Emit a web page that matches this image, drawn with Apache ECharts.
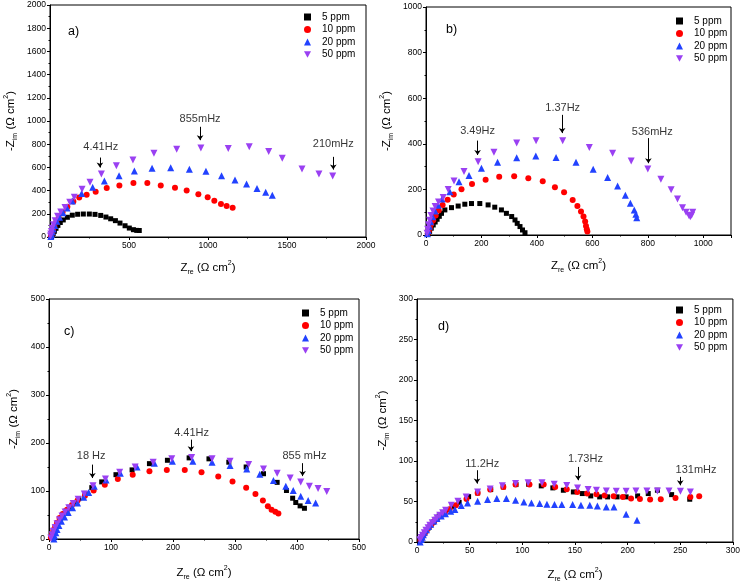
<!DOCTYPE html>
<html><head><meta charset="utf-8">
<script src="https://cdn.jsdelivr.net/npm/echarts@6/dist/echarts.min.js"></script>
<style>html,body{margin:0;padding:0;background:#fff}#c{width:743px;height:585px}</style>
</head><body><div id="c"></div>
<script>
// ---------- data ----------
const seriesNames = ['5 ppm', '10 ppm', '20 ppm', '50 ppm'];

// panel a)
const a5 = [[10,5],[14,15],[20,30],[28,50],[38,75],[50,100],[65,125],[84,147],[110,170],[141,188],[175,196],[211,198],[249,198],[285,195],[321,186],[354,172],[384,157],[414,141],[443,120],[475,97],[502,77],[528,63],[549,57],[565,56]];
const a10 = [[5,5],[9,20],[14,40],[20,65],[28,95],[40,130],[55,165],[80,215],[110,260],[148,305],[185,340],[232,365],[289,391],[359,422],[439,445],[528,466],[616,466],[701,445],[791,425],[865,400],[939,368],[998,342],[1040,313],[1082,285],[1118,267],[1156,253]];
const a20 = [[5,5],[9,22],[14,45],[20,70],[30,100],[43,135],[60,170],[82,210],[108,250],[141,310],[200,375],[270,428],[344,483],[437,529],[534,569],[646,592],[764,598],[882,583],[987,566],[1086,529],[1171,491],[1244,457],[1310,419],[1365,385],[1407,359]];
const a50 = [[3,8],[5,25],[9,48],[14,75],[22,105],[33,140],[48,178],[68,215],[95,255],[125,300],[154,342],[203,411],[253,471],[325,543],[420,615],[525,664],[658,721],[802,756],[955,768],[1128,764],[1261,779],[1384,736],[1470,678],[1595,586],[1702,543],[1789,526]];

// panel b)
const b5 = [[8,5],[13,15],[19,30],[26,44],[33,57],[40,69],[48,82],[56,95],[68,110],[92,120],[116,127],[140,135],[164,138],[194,138],[224,132],[248,122],[272,110],[290,95],[309,81],[321,66],[329,51],[339,37],[348,22],[357,10]];
const b10 = [[6,5],[10,18],[14,32],[19,48],[26,65],[35,85],[46,108],[60,132],[78,155],[100,178],[128,201],[166,224],[215,242],[264,255],[318,258],[369,249],[421,236],[465,209],[498,187],[529,154],[546,127],[559,103],[568,81],[574,59],[577,40],[580,25],[582,15]];
const b20 = [[5,5],[8,20],[12,38],[17,58],[24,80],[33,105],[44,130],[58,158],[86,190],[119,234],[155,261],[200,293],[258,319],[327,339],[396,347],[469,340],[541,319],[603,288],[655,252],[691,215],[719,174],[737,139],[751,110],[757,91],[760,76]];
const b50 = [[4,8],[6,25],[9,45],[13,65],[18,85],[25,105],[33,125],[45,145],[62,165],[80,200],[101,237],[137,278],[188,321],[245,363],[327,403],[397,413],[493,413],[589,384],[673,359],[740,325],[800,290],[847,245],[884,198],[907,158],[925,120],[938,100],[948,86],[953,80],[958,87],[962,100]];

// panel c)
const c5 = [[4,3],[6,10],[8,18],[11,26],[14,34],[18,42],[22,50],[27,58],[33,66],[40,75],[48,84],[58,95],[69,107],[85,119],[108,134],[134,144],[162,157],[191,164],[226,169],[258,167],[290,160],[318,150],[346,136],[368,118],[383,101],[393,85],[398,76],[405,69],[412,64]];
const c10 = [[3,3],[5,10],[7,18],[10,26],[13,34],[17,44],[22,52],[29,61],[37,71],[46,80],[58,90],[72,101],[90,113],[111,125],[135,134],[162,141],[190,144],[219,144],[246,139],[273,130],[296,120],[318,107],[333,94],[345,80],[353,68],[359,61],[365,57],[370,53]];
const c20 = [[8,0],[9,6],[11,13],[13,20],[16,28],[20,37],[25,46],[31,55],[38,65],[46,75],[56,87],[64,97],[73,110],[92,123],[115,137],[142,150],[170,158],[199,162],[232,162],[263,160],[292,153],[319,146],[340,135],[362,122],[382,110],[394,101],[406,89],[418,80],[430,75]];
const c50 = [[3,2],[5,9],[7,16],[10,24],[13,32],[17,40],[21,48],[26,56],[32,65],[39,74],[47,83],[57,94],[71,111],[91,125],[114,139],[139,150],[168,160],[198,167],[230,170],[263,167],[292,162],[322,155],[346,146],[368,137],[389,127],[406,119],[420,110],[434,105],[448,99]];

// panel d)
const d5 = [[3,2],[4.3,5],[5.6,8],[7.2,11],[9,14],[11,17.5],[13,21],[15.5,24.5],[18,28],[21,32],[25,36],[29,40],[33.5,44],[40,49],[49,56],[57.6,60.6],[70,64.7],[82,68],[94,70.9],[106,71.3],[118,69.3],[129,66.8],[139,63.9],[148.5,61.8],[157,59.8],[165,56.9],[173.5,55.7],[181,55.7],[190,55.7],[198.6,55.7],[209.5,56.9],[219.6,59.8],[228.3,63.9],[241.8,58.5],[259,52.8]];
const d10 = [[3.3,2],[4.6,5],[6,8],[7.6,11.5],[9.5,15],[11.5,18.5],[13.8,22],[16.4,25.5],[19.3,29],[22.5,32.5],[26.5,36.5],[31,40.5],[37,45.5],[47,53],[57.6,60.6],[69.5,64.7],[82,68],[93.6,70.9],[106.8,70.9],[120.3,70.9],[131.2,68],[142.2,65.1],[152.2,61.8],[161.6,59.8],[170.4,59],[178.2,57.3],[186.7,56.5],[195.4,55.7],[203.3,53.6],[211.7,53.2],[221.4,52.4],[231.5,52.8],[245.5,54.4],[259.6,55.5],[268,56.5]];
const d20 = [[3,0],[4,3],[5,6],[6,9],[7,12],[9,15],[11,19],[13,22],[16,26],[19,29],[23,32],[27,35],[32,38],[36,40],[42,45],[48,48],[57.6,50.3],[67,52.4],[75.8,53.6],[84.9,53.6],[93.6,51.5],[101.5,49.5],[108.7,48.2],[116.5,47.4],[123.4,46.6],[130.6,46.2],[137.5,46.2],[147.8,46.2],[155.7,45.4],[164.1,45.4],[171.3,44.5],[179.8,43.3],[187,43.3],[198.6,34.2],[208.9,26.8]];
const d50 = [[2.8,2.9],[4,5.5],[5.3,8.3],[7,11.5],[8.5,14.5],[10.5,17.5],[12.2,20.6],[14.5,23.7],[16.9,26.8],[19,30],[21.6,33],[24.4,36],[27.2,39.2],[32.6,45.4],[38.8,50.3],[46.7,55.7],[57.6,61.8],[69.5,65.5],[81.1,69.3],[93.6,72.1],[105.5,73],[118.7,73],[130.3,71.3],[142.2,69.7],[152.5,66.8],[162.5,64.7],[170.4,63.9],[179.8,63.1],[189.2,62.7],[198.6,62.7],[207.9,63.1],[218.3,63.1],[228.3,63.1],[239.3,63.1],[250.2,62.7],[259.6,61.8]];

// annotations: [text, textX, textY, arrowX, arrowFromY, arrowToY] (data units)
const annA = [['4.41Hz',321,777,316,685,599],['855mHz',950,1019,950,950,835],['210mHz',1793,806,1793,691,581]];
const annB = [['3.49Hz',186,457,186,414,351],['1.37Hz',493,556,491,527,447],['536mHz',816,451,802,425,315]];
const annC = [['18 Hz',68,174,70,155,127],['4.41Hz',230,221,229,207,183],['855 mHz',412,174,409,158,131]];
const annD = [['11.2Hz',62,96,57,88.6,72.1],['1.73Hz',160,103,153,92.7,76.3],['131mHz',265,88.6,250,80.4,70]];

const panelLabels = ['a)', 'b)', 'c)', 'd)'];

// ---------- styling ----------
const FONT = 'Liberation Sans, Arial, sans-serif';
const colors = ['#000000', '#ff0000', '#2242ff', '#9a40f2'];
const symbols = ['rect', 'circle', 'triangle', 'path://M0,0L10,0L5,9Z'];
const sizes = [5, 6, 7, 7];

const grids = [
  {left: 50, top: 5, width: 316, height: 232},
  {left: 426, top: 7, width: 305, height: 228},
  {left: 49, top: 299, width: 310, height: 240},
  {left: 417, top: 299, width: 319, height: 243}
];
const xCfg = [{max: 2000, interval: 500, gap: 23}, {max: 1100, interval: 200, gap: 23}, {max: 500, interval: 100, gap: 26}, {max: 300, interval: 50, gap: 25}];
const yCfg = [{max: 2000, interval: 200, gap: 31}, {max: 1000, interval: 200, gap: 31}, {max: 500, interval: 100, gap: 27}, {max: 300, interval: 50, gap: 26}];
const legendPos = [{left: 304, top: 12}, {left: 676, top: 16}, {left: 302, top: 308}, {left: 676, top: 305}];
const labelPos = [{left: 68, top: 25}, {left: 446, top: 23}, {left: 64, top: 325}, {left: 438, top: 320}];

const rich = {
  n: {fontSize: 11.5, fontFamily: FONT, color: '#000', lineHeight: 16},
  s: {fontSize: 7, fontFamily: FONT, color: '#000', lineHeight: 8, verticalAlign: 'bottom'},
  p: {fontSize: 7, fontFamily: FONT, color: '#000', lineHeight: 8, verticalAlign: 'top'}
};
const xName = '{n|Z}{s|re}{n| (Ω cm}{p|2}{n|)}';
const yName = '{n|-Z}{s|im}{n| (Ω cm}{p|2}{n|)}';

function axisCommon(cfg) {
  return {
    type: 'value', min: 0, max: cfg.max, interval: cfg.interval,
    nameLocation: 'middle', nameGap: cfg.gap,
    nameTextStyle: {rich: rich},
    axisLine: {show: true, onZero: false, lineStyle: {color: '#000', width: 1}},
    axisTick: {show: true, length: 3, lineStyle: {color: '#000', width: 1}},
    minorTick: {show: true, splitNumber: 2, length: 1.5, lineStyle: {color: '#000', width: 1}},
    splitLine: {show: false}, minorSplitLine: {show: false},
    axisLabel: {color: '#000', fontSize: 8.5, fontFamily: FONT, margin: 4,
      formatter: v => (Math.round(v) % cfg.interval === 0 ? String(Math.round(v)) : '')}
  };
}

const panelData = [[a5, a10, a20, a50], [b5, b10, b20, b50], [c5, c10, c20, c50], [d5, d10, d20, d50]];
const panelAnn = [annA, annB, annC, annD];

const option = {
  animation: false,
  backgroundColor: '#fff',
  grid: grids.map(g => Object.assign({show: true, borderColor: '#000', borderWidth: 1, backgroundColor: 'transparent', containLabel: false}, g)),
  xAxis: xCfg.map((c, i) => Object.assign(axisCommon(c), {gridIndex: i, name: xName})),
  yAxis: yCfg.map((c, i) => Object.assign(axisCommon(c), {gridIndex: i, name: yName})),
  legend: legendPos.map(p => ({
    orient: 'vertical', left: p.left, top: p.top, padding: 0,
    itemWidth: 7, itemHeight: 7, itemGap: 2.5,
    textStyle: {fontSize: 10, fontFamily: FONT, color: '#000', lineHeight: 10, padding: [0, 0, 0, 6]},
    data: seriesNames.map((n, i) => ({name: n, icon: symbols[i]}))
  })),
  title: panelLabels.map((t, i) => ({text: t, left: labelPos[i].left, top: labelPos[i].top, padding: 0,
    textStyle: {fontSize: 12.5, fontWeight: 'normal', fontFamily: FONT, color: '#000'}})),
  series: []
};

panelData.forEach((sets, gi) => {
  sets.forEach((d, si) => {
    option.series.push({
      type: 'scatter', name: seriesNames[si], xAxisIndex: gi, yAxisIndex: gi,
      data: d, symbol: symbols[si], symbolSize: sizes[si],
      itemStyle: {color: colors[si], opacity: 1}, z: 2 + si
    });
  });
  const ann = panelAnn[gi];
  option.series.push({
    type: 'scatter', name: 'annotation', xAxisIndex: gi, yAxisIndex: gi, silent: true,
    data: ann.map(a => [a[1], a[2], a[0]]), symbolSize: 1,
    itemStyle: {color: 'rgba(0,0,0,0)'}, z: 10,
    label: {show: true, position: 'inside', formatter: p => p.data[2], color: '#000', fontSize: 11, fontFamily: FONT},
    markLine: {
      silent: true, symbol: ['none', 'arrow'], symbolSize: 5, animation: false,
      lineStyle: {color: '#000', width: 1, type: 'solid'}, label: {show: false},
      emphasis: {disabled: true},
      data: ann.map(a => [{coord: [a[3], a[4]]}, {coord: [a[3], a[5]]}])
    }
  });
});

const chart = echarts.init(document.getElementById('c'), null, {renderer: 'canvas'});
chart.setOption(option);
</script>
</body></html>
